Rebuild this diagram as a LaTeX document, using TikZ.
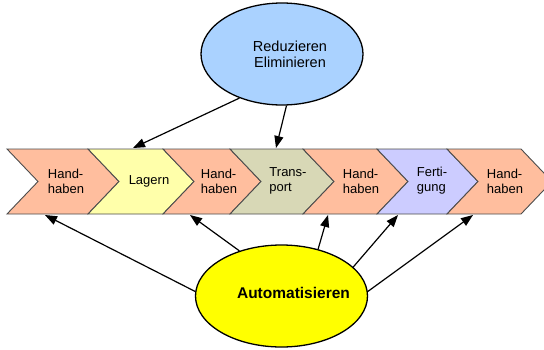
\documentclass[tikz,border=0pt]{standalone}
\usepackage{fontspec}
\setmainfont{Liberation Sans}
\usetikzlibrary{shapes.geometric,arrows.meta}
\definecolor{hand}{RGB}{255,190,158}
\definecolor{lager}{RGB}{255,255,170}
\definecolor{trans}{RGB}{216,216,182}
\definecolor{fert}{RGB}{204,204,255}
\definecolor{blau}{RGB}{170,210,255}
\definecolor{gelb}{RGB}{255,255,0}
\begin{document}
\begin{tikzpicture}[x=1pt,y=-1pt,
  kette/.style={draw=black!70,line width=0.9pt},
  txt/.style={font=\fontsize{13}{15}\selectfont,align=left},
  oval/.style={ellipse,draw,line width=1.3pt,inner sep=0pt},
  pfeil/.style={line width=1.2pt,-{Triangle[length=12pt,width=9pt]}}]
\useasboundingbox (0,0) rectangle (544,349);
% Prozesskette
\draw[kette,fill=hand]  (7,149) -- (88,149) -- (119,181.5) -- (88,214) -- (7,214) -- (38,181.5) -- cycle;
\draw[kette,fill=lager] (88,149) -- (163,149) -- (194,181.5) -- (163,214) -- (88,214) -- (119,181.5) -- cycle;
\draw[kette,fill=hand]  (163,149) -- (230,149) -- (261,181.5) -- (230,214) -- (163,214) -- (194,181.5) -- cycle;
\draw[kette,fill=trans] (230,149) -- (303,149) -- (334,181.5) -- (303,214) -- (230,214) -- (261,181.5) -- cycle;
\draw[kette,fill=hand]  (303,149) -- (377,149) -- (408,181.5) -- (377,214) -- (303,214) -- (334,181.5) -- cycle;
\draw[kette,fill=fert]  (377,149) -- (447,149) -- (478,181.5) -- (447,214) -- (377,214) -- (408,181.5) -- cycle;
\draw[kette,fill=hand]  (447,149) -- (521,149) -- (552,181.5) -- (521,214) -- (447,214) -- (478,181.5) -- cycle;
\node[txt] (hand1) at (66,181) {Hand-\\haben};
\node[txt] (lager) at (149,181) {Lagern};
\node[txt] (hand2) at (219,181) {Hand-\\haben};
\node[txt] (trans) at (288,181) {Trans-\\port};
\node[txt] (hand3) at (361,181) {Hand-\\haben};
\node[txt] (fert) at (432,181) {Ferti-\\gung};
\node[txt] (hand4) at (505,181) {Hand-\\haben};

% Ellipsen
\node[oval,fill=blau,minimum width=162pt,minimum height=102pt,
  label={[xshift=8pt,align=center,font=\fontsize{14.5}{16}\selectfont]center:Reduzieren\\Eliminieren}] (redu) at (282,54) {};
\node[oval,fill=gelb,minimum width=172pt,minimum height=102pt,
  label={[xshift=12pt,yshift=3pt,font=\fontsize{15.5}{18}\selectfont\bfseries]center:Automatisieren}] (auto) at (281.5,296) {};

\coordinate (o1) at (133,148);
\coordinate (o2) at (276,148);
\coordinate (u1) at (45,215);
\coordinate (u2) at (190,215);
\coordinate (u3) at (328,215);
\coordinate (u4) at (398,215);
\coordinate (u5) at (473,215);
\draw[pfeil] (redu.226) -- (o1);
\draw[pfeil] (redu.275) -- (o2);
\draw[pfeil] (auto.177) -- (u1);
\draw[pfeil] (auto.133) -- (u2);
\draw[pfeil] (auto.52) -- (u3);
\draw[pfeil] (auto.22) -- (u4);
\draw[pfeil] (auto.3) -- (u5);
\end{tikzpicture}
\end{document}
